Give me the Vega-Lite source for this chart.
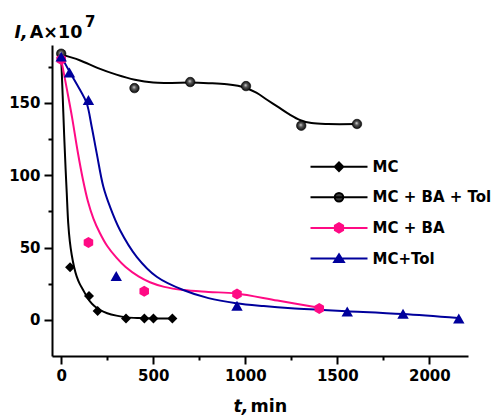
{
  "$schema": "https://vega.github.io/schema/vega-lite/v6.json",
  "width": 416,
  "height": 311,
  "autosize": {"type": "none"},
  "padding": {"left": 52, "top": 45, "right": 31, "bottom": 59},
  "title": {"text": "7", "anchor": "start", "frame": "group", "dx": 33, "dy": 19, "offset": 0, "baseline": "alphabetic", "font": "DejaVu Sans", "fontSize": 15, "fontWeight": "bold", "color": "black"},
  "datasets": {
    "curves": [
      {"s": "MC", "t": 0, "I": 181}, {"s": "MC", "t": 8, "I": 155}, {"s": "MC", "t": 16, "I": 128}, {"s": "MC", "t": 24, "I": 104},
      {"s": "MC", "t": 30, "I": 88}, {"s": "MC", "t": 38, "I": 67}, {"s": "MC", "t": 47, "I": 54}, {"s": "MC", "t": 57, "I": 45},
      {"s": "MC", "t": 70, "I": 36.5}, {"s": "MC", "t": 84, "I": 30}, {"s": "MC", "t": 100, "I": 25}, {"s": "MC", "t": 120, "I": 20.5},
      {"s": "MC", "t": 140, "I": 15.8}, {"s": "MC", "t": 156, "I": 12.8}, {"s": "MC", "t": 180, "I": 9.6}, {"s": "MC", "t": 211, "I": 6.8},
      {"s": "MC", "t": 250, "I": 4.6}, {"s": "MC", "t": 300, "I": 2.9}, {"s": "MC", "t": 356, "I": 1.7}, {"s": "MC", "t": 420, "I": 1.2},
      {"s": "MC", "t": 500, "I": 1}, {"s": "MC", "t": 600, "I": 1},
      {"s": "MC + BA + Tol", "t": 0, "I": 183.5}, {"s": "MC + BA + Tol", "t": 100, "I": 179.5}, {"s": "MC + BA + Tol", "t": 200, "I": 174},
      {"s": "MC + BA + Tol", "t": 300, "I": 169.5}, {"s": "MC + BA + Tol", "t": 400, "I": 166}, {"s": "MC + BA + Tol", "t": 500, "I": 164},
      {"s": "MC + BA + Tol", "t": 600, "I": 163.8}, {"s": "MC + BA + Tol", "t": 700, "I": 164}, {"s": "MC + BA + Tol", "t": 800, "I": 163.6},
      {"s": "MC + BA + Tol", "t": 900, "I": 162.8}, {"s": "MC + BA + Tol", "t": 1000, "I": 160.5}, {"s": "MC + BA + Tol", "t": 1060, "I": 157},
      {"s": "MC + BA + Tol", "t": 1120, "I": 152}, {"s": "MC + BA + Tol", "t": 1180, "I": 147}, {"s": "MC + BA + Tol", "t": 1240, "I": 142},
      {"s": "MC + BA + Tol", "t": 1300, "I": 138}, {"s": "MC + BA + Tol", "t": 1360, "I": 136}, {"s": "MC + BA + Tol", "t": 1450, "I": 135.3},
      {"s": "MC + BA + Tol", "t": 1607, "I": 135.3},
      {"s": "MC + BA", "t": 0, "I": 180}, {"s": "MC + BA", "t": 30, "I": 160}, {"s": "MC + BA", "t": 59, "I": 140},
      {"s": "MC + BA", "t": 90, "I": 116}, {"s": "MC + BA", "t": 118, "I": 97}, {"s": "MC + BA", "t": 145, "I": 82},
      {"s": "MC + BA", "t": 175, "I": 70}, {"s": "MC + BA", "t": 210, "I": 60}, {"s": "MC + BA", "t": 250, "I": 51},
      {"s": "MC + BA", "t": 300, "I": 43}, {"s": "MC + BA", "t": 350, "I": 36.5}, {"s": "MC + BA", "t": 420, "I": 30},
      {"s": "MC + BA", "t": 482, "I": 26}, {"s": "MC + BA", "t": 560, "I": 22.8}, {"s": "MC + BA", "t": 663, "I": 20.6},
      {"s": "MC + BA", "t": 800, "I": 19.3}, {"s": "MC + BA", "t": 950, "I": 18.2}, {"s": "MC + BA", "t": 1175, "I": 13.3},
      {"s": "MC + BA", "t": 1402, "I": 8.4},
      {"s": "MC+Tol", "t": 0, "I": 182}, {"s": "MC+Tol", "t": 48, "I": 171}, {"s": "MC+Tol", "t": 102, "I": 159},
      {"s": "MC+Tol", "t": 138.6, "I": 149.7}, {"s": "MC+Tol", "t": 165.7, "I": 133.5}, {"s": "MC+Tol", "t": 193, "I": 115.1},
      {"s": "MC+Tol", "t": 229, "I": 92}, {"s": "MC+Tol", "t": 265, "I": 78.2}, {"s": "MC+Tol", "t": 319, "I": 62.1},
      {"s": "MC+Tol", "t": 410, "I": 43.6}, {"s": "MC+Tol", "t": 519, "I": 29.8}, {"s": "MC+Tol", "t": 663, "I": 20.6},
      {"s": "MC+Tol", "t": 800, "I": 15}, {"s": "MC+Tol", "t": 950, "I": 11.5}, {"s": "MC+Tol", "t": 1100, "I": 9.5},
      {"s": "MC+Tol", "t": 1250, "I": 8}, {"s": "MC+Tol", "t": 1400, "I": 7}, {"s": "MC+Tol", "t": 1551, "I": 6},
      {"s": "MC+Tol", "t": 1855, "I": 4}, {"s": "MC+Tol", "t": 2157, "I": 1.2}
    ],
    "pts": [
      {"s": "MC", "t": 0, "I": 181}, {"s": "MC", "t": 48, "I": 36.3}, {"s": "MC", "t": 151, "I": 16.5}, {"s": "MC", "t": 198, "I": 6.1},
      {"s": "MC", "t": 352, "I": 1}, {"s": "MC", "t": 452, "I": 1}, {"s": "MC", "t": 501, "I": 1}, {"s": "MC", "t": 604, "I": 1},
      {"s": "MC + BA + Tol", "t": 0, "I": 184}, {"s": "MC + BA + Tol", "t": 398, "I": 160.2}, {"s": "MC + BA + Tol", "t": 701, "I": 164.4},
      {"s": "MC + BA + Tol", "t": 1004, "I": 161.6}, {"s": "MC + BA + Tol", "t": 1304, "I": 134.2}, {"s": "MC + BA + Tol", "t": 1607, "I": 135.4},
      {"s": "MC + BA", "t": 0, "I": 180}, {"s": "MC + BA", "t": 148, "I": 53.5}, {"s": "MC + BA", "t": 451, "I": 19.7},
      {"s": "MC + BA", "t": 955, "I": 17.8}, {"s": "MC + BA", "t": 1402, "I": 7.9},
      {"s": "MC+Tol", "t": 0, "I": 182}, {"s": "MC+Tol", "t": 45, "I": 171}, {"s": "MC+Tol", "t": 148, "I": 152},
      {"s": "MC+Tol", "t": 299, "I": 30.3}, {"s": "MC+Tol", "t": 955, "I": 9.7}, {"s": "MC+Tol", "t": 1554, "I": 5.8},
      {"s": "MC+Tol", "t": 1857, "I": 4.2}, {"s": "MC+Tol", "t": 2160, "I": 0.9}
    ]
  },
  "resolve": {"axis": {"x": "independent", "y": "independent"}},
  "layer": [
    {
      "data": {"name": "curves"},
      "mark": {"type": "line", "interpolate": "catmull-rom", "strokeWidth": 2},
      "encoding": {
        "x": {"field": "t", "type": "quantitative", "scale": {"domain": [-50, 2210], "nice": false, "zero": false},
          "axis": {"orient": "bottom", "values": [250, 750, 1250, 1750], "tickSize": 4, "domain": false, "labels": false,
            "title": "min", "titleX": 198, "titleY": 55, "titleAlign": "left", "titleBaseline": "alphabetic", "titleAnchor": null}},
        "y": {"field": "I", "type": "quantitative", "scale": {"domain": [-25, 190], "nice": false, "zero": false},
          "axis": {"orient": "left", "values": [25, 75, 125, 175], "tickSize": 4, "domain": false, "labels": false,
            "title": "A×10", "titleAngle": 0, "titleX": -22.7, "titleY": -8, "titleAlign": "left", "titleBaseline": "alphabetic", "titleAnchor": null}},
        "color": {"field": "s", "type": "nominal",
          "scale": {"domain": ["MC", "MC + BA + Tol", "MC + BA", "MC+Tol"], "range": ["#000000", "#000000", "#ff0a84", "#00009c"]},
          "legend": {
            "orient": "none", "legendX": 257.5, "legendY": 113.7, "title": null, "padding": 0,
            "symbolSize": 3249, "symbolStrokeWidth": 2, "clipHeight": 16, "rowPadding": 14.6, "labelOffset": 4,
            "labelFont": "DejaVu Sans", "labelFontWeight": "bold", "labelFontSize": 15, "labelColor": "black",
            "encode": {"symbols": {"update": {
              "shape": {"signal": "datum.value === 'MC' ? 'M-1,0H1M0,-0.15L0.15,0L0,0.15L-0.15,0Z' : datum.value === 'MC + BA + Tol' ? 'M-1,0H1M-0.15,0A0.15,0.15 0 1,0 0.15,0A0.15,0.15 0 1,0 -0.15,0Z' : datum.value === 'MC + BA' ? 'M-1,0H1M0,-0.165L0.143,-0.0825L0.143,0.0825L0,0.165L-0.143,0.0825L-0.143,-0.0825Z' : 'M-1,0H1M0,-0.145L0.17,0.125L-0.17,0.125Z'"},
              "fill": {"signal": "datum.value === 'MC + BA + Tol' ? '#3a3a3a' : scale('color', datum.value)"},
              "stroke": {"signal": "scale('color', datum.value)"},
              "strokeWidth": {"value": 2},
              "opacity": {"value": 1}
            }}}
          }}
      }
    },
    {
      "data": {"name": "pts"},
      "transform": [{"filter": "datum.s === 'MC'"}],
      "mark": {"type": "point", "shape": "diamond", "filled": true, "size": 100, "color": "#000000", "opacity": 1},
      "encoding": {
        "x": {"field": "t", "type": "quantitative",
          "axis": {"orient": "bottom", "values": [0, 500, 1000, 1500, 2000], "format": "d", "tickSize": 8, "labelPadding": 4,
            "title": "t,", "titleFontStyle": "italic", "titleX": 181, "titleY": 55, "titleAlign": "left", "titleBaseline": "alphabetic", "titleAnchor": null}},
        "y": {"field": "I", "type": "quantitative",
          "axis": {"orient": "left", "values": [0, 50, 100, 150], "format": "d", "tickSize": 8, "labelPadding": 4,
            "title": "I,", "titleFontStyle": "italic", "titleAngle": 0, "titleX": -38, "titleY": -8, "titleAlign": "left", "titleBaseline": "alphabetic", "titleAnchor": null}}
      }
    },
    {
      "data": {"name": "pts"},
      "transform": [{"filter": "datum.s === 'MC + BA + Tol'"}],
      "mark": {"type": "point", "shape": "circle", "size": 90, "opacity": 1, "strokeWidth": 0.6, "stroke": "#000000",
        "fill": {"gradient": "radial", "x1": 0.45, "y1": 0.4, "r1": 0, "x2": 0.5, "y2": 0.5, "r2": 0.55,
          "stops": [{"offset": 0, "color": "#d8d8d8"}, {"offset": 0.35, "color": "#5a5a5a"}, {"offset": 1, "color": "#000000"}]}},
      "encoding": {
        "x": {"field": "t", "type": "quantitative", "axis": null},
        "y": {"field": "I", "type": "quantitative", "axis": null}
      }
    },
    {
      "data": {"name": "pts"},
      "transform": [{"filter": "datum.s === 'MC + BA'"}],
      "mark": {"type": "point", "shape": "M0,-1L0.866,-0.5L0.866,0.5L0,1L-0.866,0.5L-0.866,-0.5Z", "filled": true, "size": 121, "color": "#ff0a84", "opacity": 1},
      "encoding": {
        "x": {"field": "t", "type": "quantitative", "axis": null},
        "y": {"field": "I", "type": "quantitative", "axis": null}
      }
    },
    {
      "data": {"name": "pts"},
      "transform": [{"filter": "datum.s === 'MC+Tol'"}],
      "mark": {"type": "point", "shape": "triangle-up", "filled": true, "size": 130, "color": "#00009c", "opacity": 1},
      "encoding": {
        "x": {"field": "t", "type": "quantitative", "axis": null},
        "y": {"field": "I", "type": "quantitative", "axis": null}
      }
    }
  ],
  "config": {
    "view": {"stroke": null},
    "axis": {
      "grid": false, "domainColor": "#000000", "domainWidth": 2, "tickColor": "#000000", "tickWidth": 2,
      "labelColor": "#000000", "titleColor": "#000000", "labelFont": "DejaVu Sans", "titleFont": "DejaVu Sans",
      "labelFontWeight": "bold", "titleFontWeight": "bold", "labelFontSize": 15, "titleFontSize": 17.5
    }
  }
}
